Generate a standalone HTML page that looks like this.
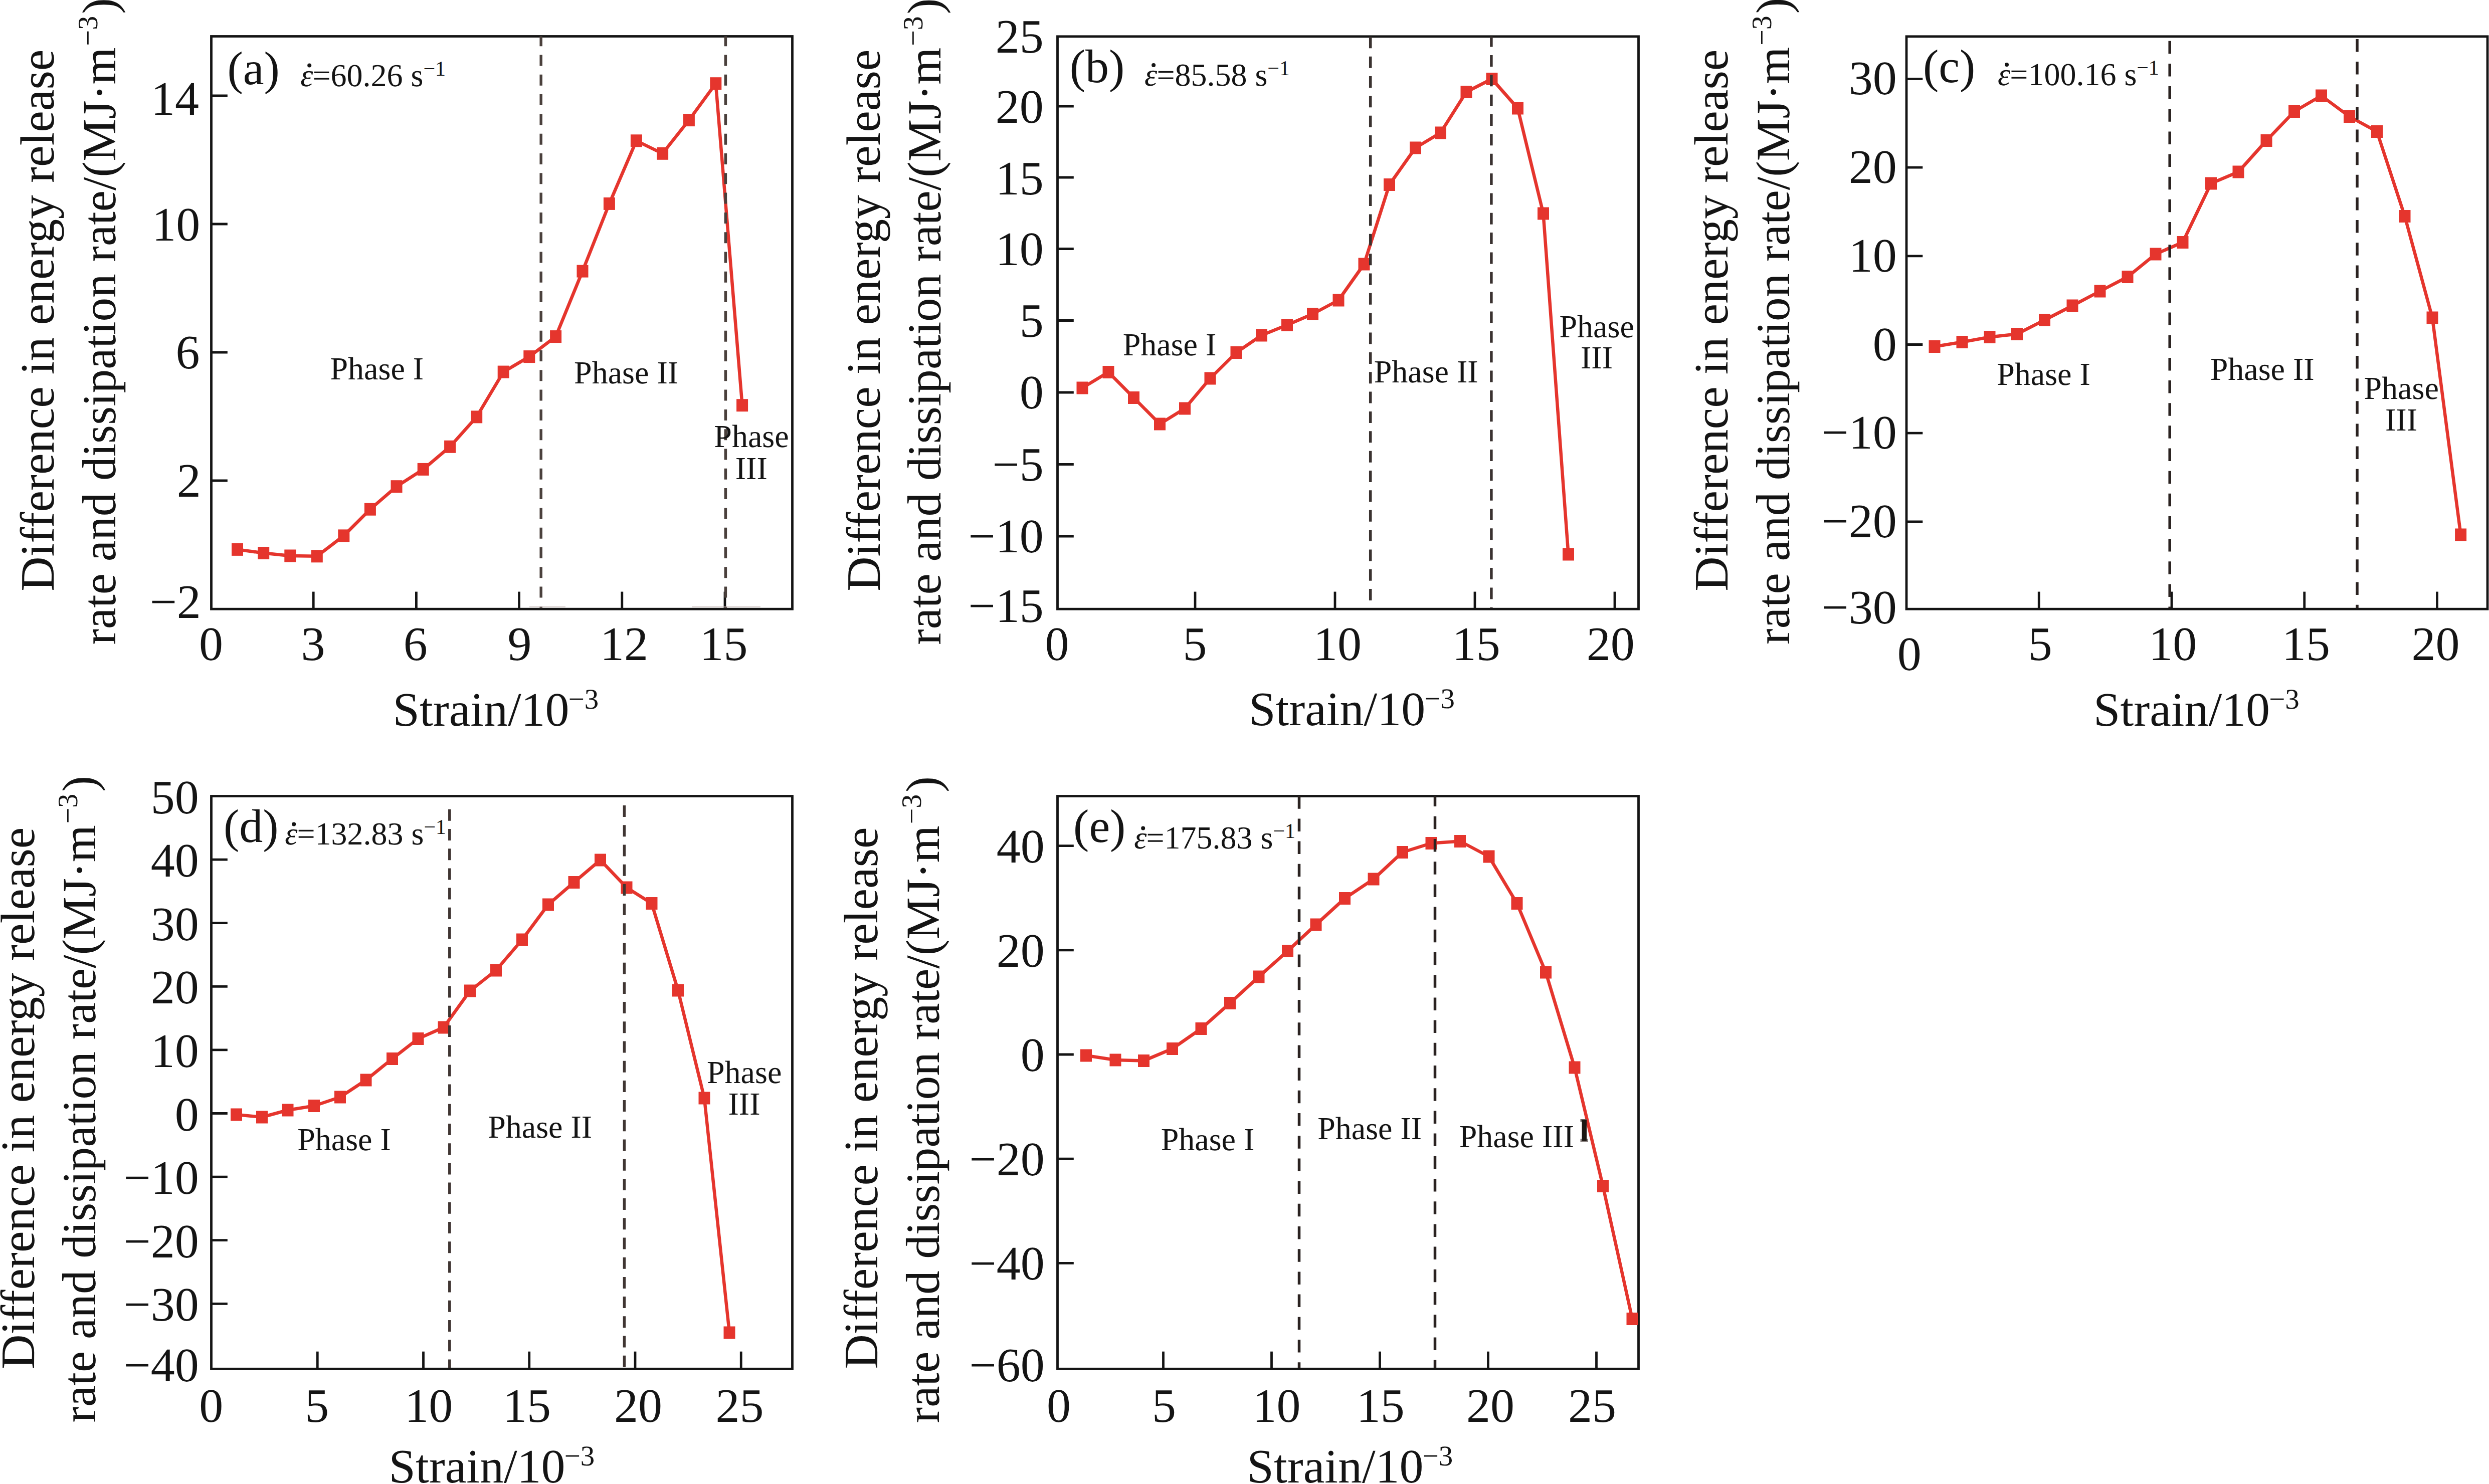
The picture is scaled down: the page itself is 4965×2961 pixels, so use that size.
<!DOCTYPE html>
<html><head><meta charset="utf-8"><style>
html,body{margin:0;padding:0;background:#fff;}
svg{display:block;}
</style></head><body>
<svg width="4965" height="2961" viewBox="0 0 4965 2961" font-family="Liberation Serif" fill="#141414" text-rendering="geometricPrecision">
<rect width="4965" height="2961" fill="#fff"/>
<rect x="421.5" y="72.5" width="1159.0" height="1142.7" fill="none" stroke="#141414" stroke-width="4.8"/>
<line x1="421.5" y1="191" x2="453.8" y2="191" stroke="#141414" stroke-width="4.8" />
<line x1="421.5" y1="447" x2="453.8" y2="447" stroke="#141414" stroke-width="4.8" />
<line x1="421.5" y1="703" x2="453.8" y2="703" stroke="#141414" stroke-width="4.8" />
<line x1="421.5" y1="959" x2="453.8" y2="959" stroke="#141414" stroke-width="4.8" />
<line x1="625.2" y1="1215.2" x2="625.2" y2="1180.6000000000001" stroke="#141414" stroke-width="4.8" />
<line x1="830.4000000000001" y1="1215.2" x2="830.4000000000001" y2="1180.6000000000001" stroke="#141414" stroke-width="4.8" />
<line x1="1035.6" y1="1215.2" x2="1035.6" y2="1180.6000000000001" stroke="#141414" stroke-width="4.8" />
<line x1="1240.8000000000002" y1="1215.2" x2="1240.8000000000002" y2="1180.6000000000001" stroke="#141414" stroke-width="4.8" />
<line x1="1446.0" y1="1215.2" x2="1446.0" y2="1180.6000000000001" stroke="#141414" stroke-width="4.8" />
<text x="301.0" y="228.8" font-size="96" >14</text>
<text x="303.2" y="480.0" font-size="96" >10</text>
<text x="350.4" y="735.0" font-size="96" >6</text>
<text x="352.8" y="991.0" font-size="96" >2</text>
<text x="298.7" y="1233.0" font-size="96" >−2</text>
<text x="397.1" y="1317.0" font-size="96" >0</text>
<text x="600.6" y="1317.0" font-size="96" >3</text>
<text x="804.8" y="1317.0" font-size="96" >6</text>
<text x="1012.4" y="1317.0" font-size="96" >9</text>
<text x="1197.0" y="1317.0" font-size="96" >12</text>
<text x="1395.5" y="1317.0" font-size="96" >15</text>
<polyline fill="none" stroke="#e5352d" stroke-width="6.5" stroke-linejoin="round" points="473.5,1096.4 525.7,1103.5 578.8,1109 632.3,1109.8 685.8,1068.9 738.4,1016.2 791,970.7 844.2,936.4 897.6,891.3 950.7,831.9 1004.2,742.1 1055.8,711.6 1108.6,671.6 1162,541.1 1215.4,406.4 1269.4,280.8 1321.6,306.3 1374.4,239.6 1427.8,166.7 1480.6,808.7"/>
<rect x="462.0" y="1083.9" width="23" height="25" fill="#e5352d"/>
<rect x="514.2" y="1091.0" width="23" height="25" fill="#e5352d"/>
<rect x="567.3" y="1096.5" width="23" height="25" fill="#e5352d"/>
<rect x="620.8" y="1097.3" width="23" height="25" fill="#e5352d"/>
<rect x="674.3" y="1056.4" width="23" height="25" fill="#e5352d"/>
<rect x="726.9" y="1003.7" width="23" height="25" fill="#e5352d"/>
<rect x="779.5" y="958.2" width="23" height="25" fill="#e5352d"/>
<rect x="832.7" y="923.9" width="23" height="25" fill="#e5352d"/>
<rect x="886.1" y="878.8" width="23" height="25" fill="#e5352d"/>
<rect x="939.2" y="819.4" width="23" height="25" fill="#e5352d"/>
<rect x="992.7" y="729.6" width="23" height="25" fill="#e5352d"/>
<rect x="1044.3" y="699.1" width="23" height="25" fill="#e5352d"/>
<rect x="1097.1" y="659.1" width="23" height="25" fill="#e5352d"/>
<rect x="1150.5" y="528.6" width="23" height="25" fill="#e5352d"/>
<rect x="1203.9" y="393.9" width="23" height="25" fill="#e5352d"/>
<rect x="1257.9" y="268.3" width="23" height="25" fill="#e5352d"/>
<rect x="1310.1" y="293.8" width="23" height="25" fill="#e5352d"/>
<rect x="1362.9" y="227.1" width="23" height="25" fill="#e5352d"/>
<rect x="1416.3" y="154.2" width="23" height="25" fill="#e5352d"/>
<rect x="1469.1" y="796.2" width="23" height="25" fill="#e5352d"/>
<line x1="1079.2" y1="72.5" x2="1079.2" y2="1213.2" stroke="#4a403c" stroke-width="5.5" stroke-dasharray="22 17.30" stroke-dashoffset="2.30"/>
<line x1="1447.4" y1="72.5" x2="1447.4" y2="1213.2" stroke="#4a403c" stroke-width="5.5" stroke-dasharray="22 17.30" stroke-dashoffset="2.30"/>
<text x="453.5" y="168.2" font-size="94" >(a)</text>
<text x="599.2" y="171.5" font-size="64" font-style="italic">ε</text>
<circle cx="617.2" cy="130.5" r="4" fill="#141414"/>
<text x="623.5" y="171.5" font-size="64" >=60.26 s</text>
<text x="844.4" y="150.5" font-size="42" >−1</text>
<text x="658.5" y="756.7" font-size="64" >Phase I</text>
<text x="1145.1" y="764.5" font-size="64" >Phase II</text>
<text x="1424.3" y="891.9" font-size="64" >Phase</text>
<text x="1466.8" y="955.6" font-size="64" >III</text>
<g transform="translate(107,1177) rotate(-90)"><text x="-2.8" y="0" font-size="96">Difference in energy release</text></g>
<g transform="translate(229.5,1284.7) rotate(-90)"><text x="-1.9" y="0" font-size="95.2">rate and dissipation rate/(MJ·m<tspan font-size="56" dx="3" dy="-36">−3</tspan><tspan dx="4" dy="36">)</tspan></text></g>
<text x="783.6" y="1448.0" font-size="96" >Strain/10</text>
<text x="1133.7" y="1414.0" font-size="57" >−3</text>
<rect x="2109.5" y="72.8" width="1159.0" height="1142.4" fill="none" stroke="#141414" stroke-width="4.8"/>
<line x1="2109.5" y1="212" x2="2141.8" y2="212" stroke="#141414" stroke-width="4.8" />
<line x1="2109.5" y1="354" x2="2141.8" y2="354" stroke="#141414" stroke-width="4.8" />
<line x1="2109.5" y1="496.5" x2="2141.8" y2="496.5" stroke="#141414" stroke-width="4.8" />
<line x1="2109.5" y1="639.5" x2="2141.8" y2="639.5" stroke="#141414" stroke-width="4.8" />
<line x1="2109.5" y1="783" x2="2141.8" y2="783" stroke="#141414" stroke-width="4.8" />
<line x1="2109.5" y1="926.5" x2="2141.8" y2="926.5" stroke="#141414" stroke-width="4.8" />
<line x1="2109.5" y1="1070" x2="2141.8" y2="1070" stroke="#141414" stroke-width="4.8" />
<line x1="2384.0" y1="1215.2" x2="2384.0" y2="1180.6000000000001" stroke="#141414" stroke-width="4.8" />
<line x1="2663.0" y1="1215.2" x2="2663.0" y2="1180.6000000000001" stroke="#141414" stroke-width="4.8" />
<line x1="2942.0" y1="1215.2" x2="2942.0" y2="1180.6000000000001" stroke="#141414" stroke-width="4.8" />
<line x1="3221.0" y1="1215.2" x2="3221.0" y2="1180.6000000000001" stroke="#141414" stroke-width="4.8" />
<text x="1985.8" y="105.0" font-size="96" >25</text>
<text x="1985.7" y="245.0" font-size="96" >20</text>
<text x="1985.8" y="388.0" font-size="96" >15</text>
<text x="1985.7" y="529.0" font-size="96" >10</text>
<text x="2033.8" y="672.0" font-size="96" >5</text>
<text x="2033.7" y="815.0" font-size="96" >0</text>
<text x="1979.6" y="959.0" font-size="96" >−5</text>
<text x="1931.5" y="1102.0" font-size="96" >−10</text>
<text x="1931.6" y="1241.0" font-size="96" >−15</text>
<text x="2084.5" y="1317.0" font-size="96" >0</text>
<text x="2359.6" y="1317.0" font-size="96" >5</text>
<text x="2620.1" y="1317.0" font-size="96" >10</text>
<text x="2896.7" y="1317.0" font-size="96" >15</text>
<text x="3164.7" y="1317.0" font-size="96" >20</text>
<polyline fill="none" stroke="#e5352d" stroke-width="6.5" stroke-linejoin="round" points="2159,774 2211,742.5 2261.5,793.5 2313.5,846 2363.5,815 2414,755 2466,703.5 2516.5,669 2567.5,648.5 2618.5,626.5 2670,599 2721,527 2771.5,368.5 2823.5,295 2873.5,265 2925,183.5 2976,157.5 3027.5,216 3078.5,426 3128.5,1106"/>
<rect x="2147.5" y="761.5" width="23" height="25" fill="#e5352d"/>
<rect x="2199.5" y="730.0" width="23" height="25" fill="#e5352d"/>
<rect x="2250.0" y="781.0" width="23" height="25" fill="#e5352d"/>
<rect x="2302.0" y="833.5" width="23" height="25" fill="#e5352d"/>
<rect x="2352.0" y="802.5" width="23" height="25" fill="#e5352d"/>
<rect x="2402.5" y="742.5" width="23" height="25" fill="#e5352d"/>
<rect x="2454.5" y="691.0" width="23" height="25" fill="#e5352d"/>
<rect x="2505.0" y="656.5" width="23" height="25" fill="#e5352d"/>
<rect x="2556.0" y="636.0" width="23" height="25" fill="#e5352d"/>
<rect x="2607.0" y="614.0" width="23" height="25" fill="#e5352d"/>
<rect x="2658.5" y="586.5" width="23" height="25" fill="#e5352d"/>
<rect x="2709.5" y="514.5" width="23" height="25" fill="#e5352d"/>
<rect x="2760.0" y="356.0" width="23" height="25" fill="#e5352d"/>
<rect x="2812.0" y="282.5" width="23" height="25" fill="#e5352d"/>
<rect x="2862.0" y="252.5" width="23" height="25" fill="#e5352d"/>
<rect x="2913.5" y="171.0" width="23" height="25" fill="#e5352d"/>
<rect x="2964.5" y="145.0" width="23" height="25" fill="#e5352d"/>
<rect x="3016.0" y="203.5" width="23" height="25" fill="#e5352d"/>
<rect x="3067.0" y="413.5" width="23" height="25" fill="#e5352d"/>
<rect x="3117.0" y="1093.5" width="23" height="25" fill="#e5352d"/>
<line x1="2733.7" y1="73.3" x2="2733.7" y2="1213.2" stroke="#3a3230" stroke-width="5.5" stroke-dasharray="23 16.35" stroke-dashoffset="0.00"/>
<line x1="2974.9" y1="72.8" x2="2974.9" y2="1213.2" stroke="#3a3230" stroke-width="5.5" stroke-dasharray="23 16.35" stroke-dashoffset="2.20"/>
<text x="2133.8" y="164.0" font-size="94" >(b)</text>
<text x="2283.1" y="171.0" font-size="64" font-style="italic">ε</text>
<circle cx="2301.1" cy="130" r="4" fill="#141414"/>
<text x="2307.4" y="171.0" font-size="64" >=85.58 s</text>
<text x="2528.3" y="150.0" font-size="42" >−1</text>
<text x="2239.7" y="709.0" font-size="64" >Phase I</text>
<text x="2740.7" y="762.5" font-size="64" >Phase II</text>
<text x="3110.5" y="672.5" font-size="64" >Phase</text>
<text x="3153.0" y="735.0" font-size="64" >III</text>
<g transform="translate(1755,1177) rotate(-90)"><text x="-2.8" y="0" font-size="96">Difference in energy release</text></g>
<g transform="translate(1876,1285) rotate(-90)"><text x="-1.9" y="0" font-size="95.2">rate and dissipation rate/(MJ·m<tspan font-size="56" dx="3" dy="-36">−3</tspan><tspan dx="4" dy="36">)</tspan></text></g>
<text x="2491.2" y="1447.3" font-size="96" >Strain/10</text>
<text x="2841.3" y="1413.3" font-size="57" >−3</text>
<rect x="3803" y="72.8" width="1159" height="1142.4" fill="none" stroke="#141414" stroke-width="4.8"/>
<line x1="3803" y1="157.39999999999998" x2="3835.3" y2="157.39999999999998" stroke="#141414" stroke-width="4.8" />
<line x1="3803" y1="334.09999999999997" x2="3835.3" y2="334.09999999999997" stroke="#141414" stroke-width="4.8" />
<line x1="3803" y1="510.79999999999995" x2="3835.3" y2="510.79999999999995" stroke="#141414" stroke-width="4.8" />
<line x1="3803" y1="687.5" x2="3835.3" y2="687.5" stroke="#141414" stroke-width="4.8" />
<line x1="3803" y1="864.2" x2="3835.3" y2="864.2" stroke="#141414" stroke-width="4.8" />
<line x1="3803" y1="1040.9" x2="3835.3" y2="1040.9" stroke="#141414" stroke-width="4.8" />
<line x1="4067.25" y1="1215.2" x2="4067.25" y2="1180.6000000000001" stroke="#141414" stroke-width="4.8" />
<line x1="4332.0" y1="1215.2" x2="4332.0" y2="1180.6000000000001" stroke="#141414" stroke-width="4.8" />
<line x1="4596.75" y1="1215.2" x2="4596.75" y2="1180.6000000000001" stroke="#141414" stroke-width="4.8" />
<line x1="4861.5" y1="1215.2" x2="4861.5" y2="1180.6000000000001" stroke="#141414" stroke-width="4.8" />
<text x="3687.7" y="188.4" font-size="96" >30</text>
<text x="3687.7" y="365.1" font-size="96" >20</text>
<text x="3687.7" y="541.8" font-size="96" >10</text>
<text x="3735.7" y="718.5" font-size="96" >0</text>
<text x="3633.5" y="895.2" font-size="96" >−10</text>
<text x="3633.5" y="1071.9" font-size="96" >−20</text>
<text x="3633.5" y="1244.0" font-size="96" >−30</text>
<text x="3784.8" y="1337.0" font-size="96" >0</text>
<text x="4045.8" y="1317.0" font-size="96" >5</text>
<text x="4286.3" y="1317.0" font-size="96" >10</text>
<text x="4552.1" y="1317.0" font-size="96" >15</text>
<text x="4810.5" y="1317.0" font-size="96" >20</text>
<polyline fill="none" stroke="#e5352d" stroke-width="6.5" stroke-linejoin="round" points="3859,691.5 3914,682.5 3969,672.5 4023.5,666.5 4078.5,638.5 4134,610 4189,581 4244,552.5 4300,507 4354,483.5 4410.5,366 4465,343 4521,280.5 4576.5,222.5 4630.5,191 4686.5,232.5 4741.5,262.5 4797,431.5 4852,634 4908.6,1067"/>
<rect x="3847.5" y="679.0" width="23" height="25" fill="#e5352d"/>
<rect x="3902.5" y="670.0" width="23" height="25" fill="#e5352d"/>
<rect x="3957.5" y="660.0" width="23" height="25" fill="#e5352d"/>
<rect x="4012.0" y="654.0" width="23" height="25" fill="#e5352d"/>
<rect x="4067.0" y="626.0" width="23" height="25" fill="#e5352d"/>
<rect x="4122.5" y="597.5" width="23" height="25" fill="#e5352d"/>
<rect x="4177.5" y="568.5" width="23" height="25" fill="#e5352d"/>
<rect x="4232.5" y="540.0" width="23" height="25" fill="#e5352d"/>
<rect x="4288.5" y="494.5" width="23" height="25" fill="#e5352d"/>
<rect x="4342.5" y="471.0" width="23" height="25" fill="#e5352d"/>
<rect x="4399.0" y="353.5" width="23" height="25" fill="#e5352d"/>
<rect x="4453.5" y="330.5" width="23" height="25" fill="#e5352d"/>
<rect x="4509.5" y="268.0" width="23" height="25" fill="#e5352d"/>
<rect x="4565.0" y="210.0" width="23" height="25" fill="#e5352d"/>
<rect x="4619.0" y="178.5" width="23" height="25" fill="#e5352d"/>
<rect x="4675.0" y="220.0" width="23" height="25" fill="#e5352d"/>
<rect x="4730.0" y="250.0" width="23" height="25" fill="#e5352d"/>
<rect x="4785.5" y="419.0" width="23" height="25" fill="#e5352d"/>
<rect x="4840.5" y="621.5" width="23" height="25" fill="#e5352d"/>
<rect x="4897.1" y="1054.5" width="23" height="25" fill="#e5352d"/>
<line x1="4328.2" y1="81.8" x2="4328.2" y2="1213.2" stroke="#2a2220" stroke-width="5.5" stroke-dasharray="25.5 19.65" stroke-dashoffset="0.00"/>
<line x1="4702" y1="77.9" x2="4702" y2="1213.2" stroke="#2a2220" stroke-width="5.5" stroke-dasharray="25.5 19.65" stroke-dashoffset="0.00"/>
<text x="3835.9" y="164.0" font-size="94" >(c)</text>
<text x="3985.0" y="170.0" font-size="64" font-style="italic">ε</text>
<circle cx="4003.0" cy="129" r="4" fill="#141414"/>
<text x="4009.3" y="170.0" font-size="64" >=100.16 s</text>
<text x="4262.2" y="149.0" font-size="42" >−1</text>
<text x="3983.2" y="767.5" font-size="64" >Phase I</text>
<text x="4408.7" y="757.5" font-size="64" >Phase II</text>
<text x="4715.5" y="795.8" font-size="64" >Phase</text>
<text x="4758.0" y="858.8" font-size="64" >III</text>
<g transform="translate(3446,1177) rotate(-90)"><text x="-2.8" y="0" font-size="96">Difference in energy release</text></g>
<g transform="translate(3569,1284) rotate(-90)"><text x="-1.9" y="0" font-size="95.2">rate and dissipation rate/(MJ·m<tspan font-size="56" dx="3" dy="-36">−3</tspan><tspan dx="4" dy="36">)</tspan></text></g>
<text x="4176.1" y="1447.5" font-size="96" >Strain/10</text>
<text x="4526.2" y="1413.5" font-size="57" >−3</text>
<rect x="421.5" y="1588.5" width="1159.0" height="1142.8000000000002" fill="none" stroke="#141414" stroke-width="4.8"/>
<line x1="421.5" y1="1715.1" x2="453.8" y2="1715.1" stroke="#141414" stroke-width="4.8" />
<line x1="421.5" y1="1841.7" x2="453.8" y2="1841.7" stroke="#141414" stroke-width="4.8" />
<line x1="421.5" y1="1968.3" x2="453.8" y2="1968.3" stroke="#141414" stroke-width="4.8" />
<line x1="421.5" y1="2094.9" x2="453.8" y2="2094.9" stroke="#141414" stroke-width="4.8" />
<line x1="421.5" y1="2221.5" x2="453.8" y2="2221.5" stroke="#141414" stroke-width="4.8" />
<line x1="421.5" y1="2348.1" x2="453.8" y2="2348.1" stroke="#141414" stroke-width="4.8" />
<line x1="421.5" y1="2474.7" x2="453.8" y2="2474.7" stroke="#141414" stroke-width="4.8" />
<line x1="421.5" y1="2601.3" x2="453.8" y2="2601.3" stroke="#141414" stroke-width="4.8" />
<line x1="633.25" y1="2731.3" x2="633.25" y2="2696.7000000000003" stroke="#141414" stroke-width="4.8" />
<line x1="844.5" y1="2731.3" x2="844.5" y2="2696.7000000000003" stroke="#141414" stroke-width="4.8" />
<line x1="1055.75" y1="2731.3" x2="1055.75" y2="2696.7000000000003" stroke="#141414" stroke-width="4.8" />
<line x1="1267.0" y1="2731.3" x2="1267.0" y2="2696.7000000000003" stroke="#141414" stroke-width="4.8" />
<line x1="1478.25" y1="2731.3" x2="1478.25" y2="2696.7000000000003" stroke="#141414" stroke-width="4.8" />
<text x="300.7" y="1623.0" font-size="96" >50</text>
<text x="300.7" y="1749.1" font-size="96" >40</text>
<text x="300.7" y="1875.7" font-size="96" >30</text>
<text x="300.7" y="2002.3" font-size="96" >20</text>
<text x="300.7" y="2128.9" font-size="96" >10</text>
<text x="348.7" y="2255.5" font-size="96" >0</text>
<text x="246.5" y="2382.1" font-size="96" >−10</text>
<text x="246.5" y="2508.7" font-size="96" >−20</text>
<text x="246.5" y="2635.3" font-size="96" >−30</text>
<text x="246.5" y="2756.0" font-size="96" >−40</text>
<text x="397.2" y="2837.0" font-size="96" >0</text>
<text x="608.3" y="2837.0" font-size="96" >5</text>
<text x="807.2" y="2837.0" font-size="96" >10</text>
<text x="1002.9" y="2837.0" font-size="96" >15</text>
<text x="1225.0" y="2837.0" font-size="96" >20</text>
<text x="1427.5" y="2837.0" font-size="96" >25</text>
<polyline fill="none" stroke="#e5352d" stroke-width="6.5" stroke-linejoin="round" points="471.5,2224 522.5,2229 574,2215 626.5,2206.5 678.5,2189 730,2155 782.5,2112.5 834,2072.5 885,2050 937.5,1977 989.5,1936 1041.5,1875 1093.5,1805 1145,1760.5 1197.5,1716 1250,1771 1300,1802.5 1352.5,1976 1405,2191 1455,2659"/>
<rect x="460.0" y="2211.5" width="23" height="25" fill="#e5352d"/>
<rect x="511.0" y="2216.5" width="23" height="25" fill="#e5352d"/>
<rect x="562.5" y="2202.5" width="23" height="25" fill="#e5352d"/>
<rect x="615.0" y="2194.0" width="23" height="25" fill="#e5352d"/>
<rect x="667.0" y="2176.5" width="23" height="25" fill="#e5352d"/>
<rect x="718.5" y="2142.5" width="23" height="25" fill="#e5352d"/>
<rect x="771.0" y="2100.0" width="23" height="25" fill="#e5352d"/>
<rect x="822.5" y="2060.0" width="23" height="25" fill="#e5352d"/>
<rect x="873.5" y="2037.5" width="23" height="25" fill="#e5352d"/>
<rect x="926.0" y="1964.5" width="23" height="25" fill="#e5352d"/>
<rect x="978.0" y="1923.5" width="23" height="25" fill="#e5352d"/>
<rect x="1030.0" y="1862.5" width="23" height="25" fill="#e5352d"/>
<rect x="1082.0" y="1792.5" width="23" height="25" fill="#e5352d"/>
<rect x="1133.5" y="1748.0" width="23" height="25" fill="#e5352d"/>
<rect x="1186.0" y="1703.5" width="23" height="25" fill="#e5352d"/>
<rect x="1238.5" y="1758.5" width="23" height="25" fill="#e5352d"/>
<rect x="1288.5" y="1790.0" width="23" height="25" fill="#e5352d"/>
<rect x="1341.0" y="1963.5" width="23" height="25" fill="#e5352d"/>
<rect x="1393.5" y="2178.5" width="23" height="25" fill="#e5352d"/>
<rect x="1443.5" y="2646.5" width="23" height="25" fill="#e5352d"/>
<line x1="896.8" y1="1614.8" x2="896.8" y2="2729.3" stroke="#3f3532" stroke-width="5.5" stroke-dasharray="23 16.20" stroke-dashoffset="0.00"/>
<line x1="1245.4" y1="1607.1" x2="1245.4" y2="2729.3" stroke="#3f3532" stroke-width="5.5" stroke-dasharray="23 16.20" stroke-dashoffset="0.00"/>
<text x="446.0" y="1680.0" font-size="94" >(d)</text>
<text x="568.2" y="1685.4" font-size="64" font-style="italic">ε</text>
<circle cx="586.2" cy="1644.4" r="4" fill="#141414"/>
<text x="592.5" y="1685.4" font-size="64" >=132.83 s</text>
<text x="845.4" y="1664.4" font-size="42" >−1</text>
<text x="593.2" y="2295.0" font-size="64" >Phase I</text>
<text x="973.2" y="2270.0" font-size="64" >Phase II</text>
<text x="1410.0" y="2161.0" font-size="64" >Phase</text>
<text x="1452.5" y="2224.0" font-size="64" >III</text>
<g transform="translate(67.5,2729) rotate(-90)"><text x="-2.8" y="0" font-size="96">Difference in energy release</text></g>
<g transform="translate(190,2836.5) rotate(-90)"><text x="-1.9" y="0" font-size="95.2">rate and dissipation rate/(MJ·m<tspan font-size="56" dx="3" dy="-36">−3</tspan><tspan dx="4" dy="36">)</tspan></text></g>
<text x="775.6" y="2957.5" font-size="96" >Strain/10</text>
<text x="1125.7" y="2923.5" font-size="57" >−3</text>
<rect x="2109.5" y="1588.5" width="1159.0" height="1142.8000000000002" fill="none" stroke="#141414" stroke-width="4.8"/>
<line x1="2109.5" y1="1687.6" x2="2141.8" y2="1687.6" stroke="#141414" stroke-width="4.8" />
<line x1="2109.5" y1="1895.8" x2="2141.8" y2="1895.8" stroke="#141414" stroke-width="4.8" />
<line x1="2109.5" y1="2104.0" x2="2141.8" y2="2104.0" stroke="#141414" stroke-width="4.8" />
<line x1="2109.5" y1="2312.2" x2="2141.8" y2="2312.2" stroke="#141414" stroke-width="4.8" />
<line x1="2109.5" y1="2520.4" x2="2141.8" y2="2520.4" stroke="#141414" stroke-width="4.8" />
<line x1="2320.5" y1="2731.3" x2="2320.5" y2="2696.7000000000003" stroke="#141414" stroke-width="4.8" />
<line x1="2536.5" y1="2731.3" x2="2536.5" y2="2696.7000000000003" stroke="#141414" stroke-width="4.8" />
<line x1="2752.5" y1="2731.3" x2="2752.5" y2="2696.7000000000003" stroke="#141414" stroke-width="4.8" />
<line x1="2968.5" y1="2731.3" x2="2968.5" y2="2696.7000000000003" stroke="#141414" stroke-width="4.8" />
<line x1="3184.5" y1="2731.3" x2="3184.5" y2="2696.7000000000003" stroke="#141414" stroke-width="4.8" />
<text x="1987.7" y="1720.6" font-size="96" >40</text>
<text x="1987.7" y="1928.8" font-size="96" >20</text>
<text x="2035.7" y="2137.0" font-size="96" >0</text>
<text x="1933.5" y="2345.2" font-size="96" >−20</text>
<text x="1933.5" y="2553.4" font-size="96" >−40</text>
<text x="1933.5" y="2756.0" font-size="96" >−60</text>
<text x="2088.0" y="2837.0" font-size="96" >0</text>
<text x="2298.0" y="2837.0" font-size="96" >5</text>
<text x="2498.6" y="2837.0" font-size="96" >10</text>
<text x="2705.7" y="2837.0" font-size="96" >15</text>
<text x="2925.0" y="2837.0" font-size="96" >20</text>
<text x="3128.0" y="2837.0" font-size="96" >25</text>
<polyline fill="none" stroke="#e5352d" stroke-width="6.5" stroke-linejoin="round" points="2166.5,2106 2225,2115 2281.5,2116.5 2338.5,2092.5 2396,2052.5 2453.5,2001.5 2511,1949 2568.5,1897.5 2625,1845 2682.5,1792.5 2740,1754 2797.5,1700.5 2855,1682.5 2912.5,1678.5 2970,1709 3026,1802.5 3083.5,1940 3141,2130 3197.5,2366.5 3256,2631.5"/>
<rect x="2155.0" y="2093.5" width="23" height="25" fill="#e5352d"/>
<rect x="2213.5" y="2102.5" width="23" height="25" fill="#e5352d"/>
<rect x="2270.0" y="2104.0" width="23" height="25" fill="#e5352d"/>
<rect x="2327.0" y="2080.0" width="23" height="25" fill="#e5352d"/>
<rect x="2384.5" y="2040.0" width="23" height="25" fill="#e5352d"/>
<rect x="2442.0" y="1989.0" width="23" height="25" fill="#e5352d"/>
<rect x="2499.5" y="1936.5" width="23" height="25" fill="#e5352d"/>
<rect x="2557.0" y="1885.0" width="23" height="25" fill="#e5352d"/>
<rect x="2613.5" y="1832.5" width="23" height="25" fill="#e5352d"/>
<rect x="2671.0" y="1780.0" width="23" height="25" fill="#e5352d"/>
<rect x="2728.5" y="1741.5" width="23" height="25" fill="#e5352d"/>
<rect x="2786.0" y="1688.0" width="23" height="25" fill="#e5352d"/>
<rect x="2843.5" y="1670.0" width="23" height="25" fill="#e5352d"/>
<rect x="2901.0" y="1666.0" width="23" height="25" fill="#e5352d"/>
<rect x="2958.5" y="1696.5" width="23" height="25" fill="#e5352d"/>
<rect x="3014.5" y="1790.0" width="23" height="25" fill="#e5352d"/>
<rect x="3072.0" y="1927.5" width="23" height="25" fill="#e5352d"/>
<rect x="3129.5" y="2117.5" width="23" height="25" fill="#e5352d"/>
<rect x="3186.0" y="2354.0" width="23" height="25" fill="#e5352d"/>
<rect x="3244.5" y="2619.0" width="23" height="25" fill="#e5352d"/>
<line x1="2591.5" y1="1588.5" x2="2591.5" y2="2729.3" stroke="#2a2220" stroke-width="5.5" stroke-dasharray="25.5 19.70" stroke-dashoffset="0.30"/>
<line x1="2862.5" y1="1588.5" x2="2862.5" y2="2729.3" stroke="#2a2220" stroke-width="5.5" stroke-dasharray="25.5 19.70" stroke-dashoffset="4.90"/>
<text x="2141.1" y="1680.3" font-size="94" >(e)</text>
<text x="2262.2" y="1693.4" font-size="64" font-style="italic">ε</text>
<circle cx="2280.2" cy="1652.4" r="4" fill="#141414"/>
<text x="2286.5" y="1693.4" font-size="64" >=175.83 s</text>
<text x="2539.4" y="1672.4" font-size="42" >−1</text>
<text x="2315.7" y="2295.0" font-size="64" >Phase I</text>
<text x="2628.2" y="2272.5" font-size="64" >Phase II</text>
<text x="2910.7" y="2289.0" font-size="64" >Phase III</text>
<g transform="translate(1750,2728.75) rotate(-90)"><text x="-2.8" y="0" font-size="96">Difference in energy release</text></g>
<g transform="translate(1872.5,2837.5) rotate(-90)"><text x="-1.9" y="0" font-size="95.2">rate and dissipation rate/(MJ·m<tspan font-size="56" dx="3" dy="-36">−3</tspan><tspan dx="4" dy="36">)</tspan></text></g>
<text x="2487.6" y="2957.5" font-size="96" >Strain/10</text>
<text x="2837.7" y="2923.5" font-size="57" >−3</text>
<line x1="1056" y1="1210.8" x2="1128" y2="1210.8" stroke="#c4b6b4" stroke-width="1.3"/><line x1="1380" y1="1210.8" x2="1517" y2="1210.8" stroke="#c4b6b4" stroke-width="1.3"/>
<rect x="3152.5" y="2233" width="12.5" height="5" fill="#6a6260"/><rect x="3152.5" y="2272" width="15.5" height="7" fill="#8a8280"/><rect x="3155.5" y="2234.5" width="9.5" height="42" fill="#1c1814"/>
</svg></body></html>
